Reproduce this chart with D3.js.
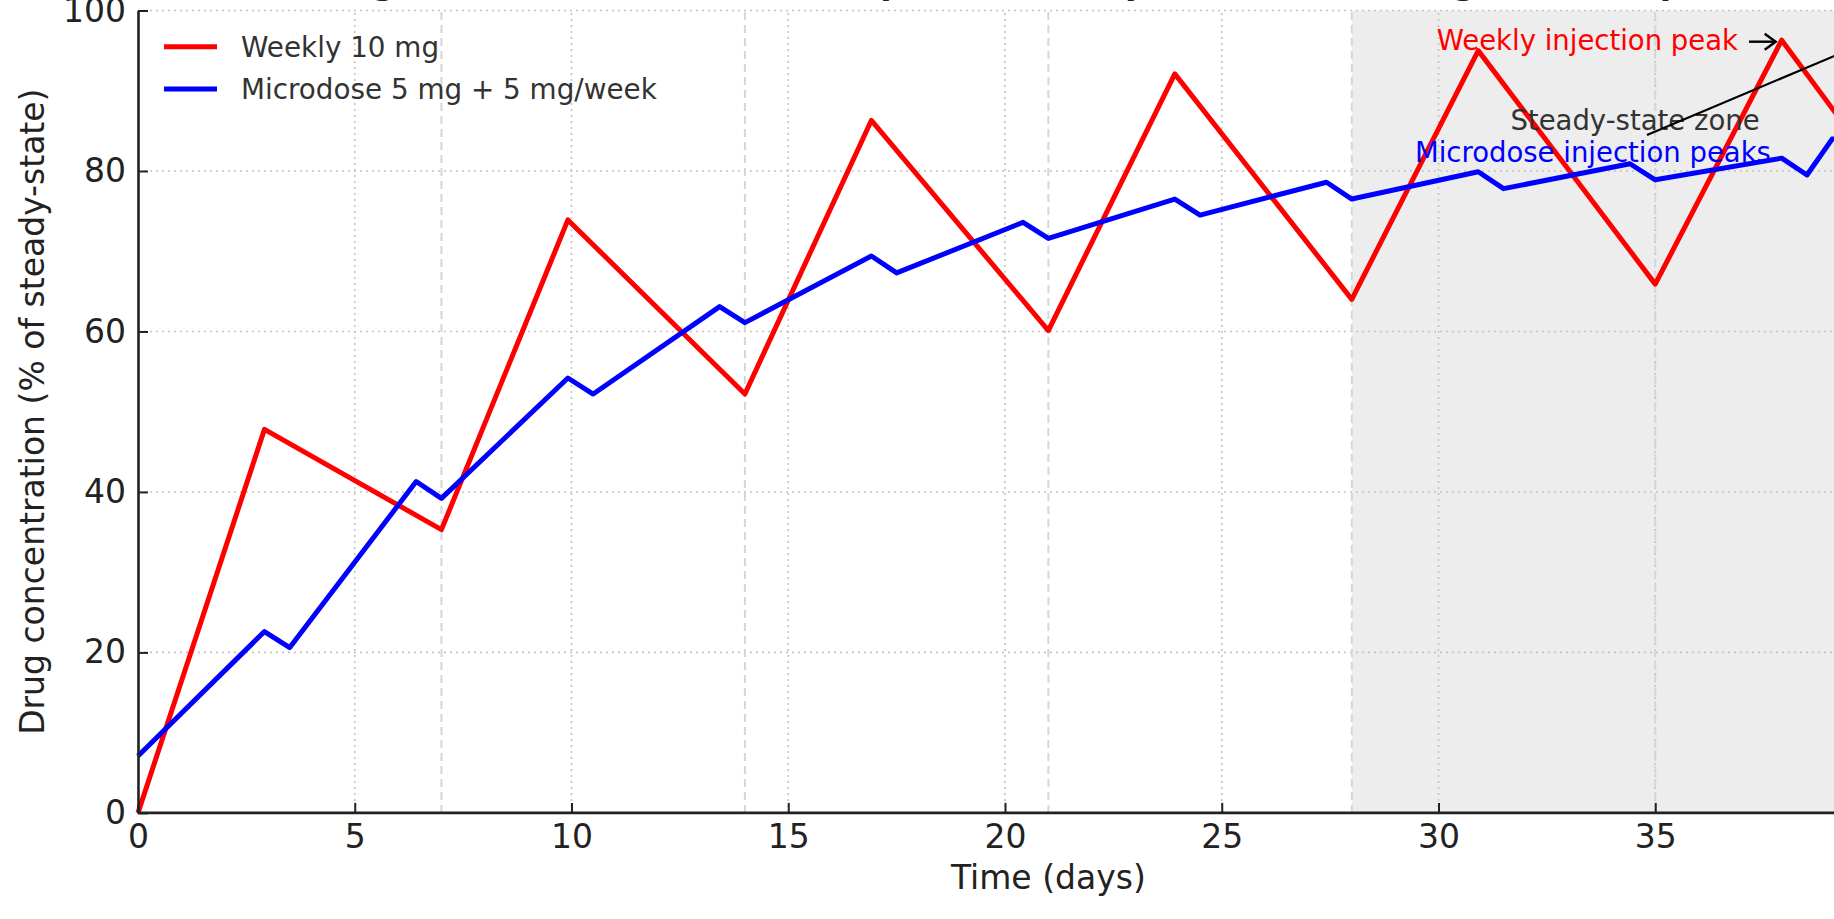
<!DOCTYPE html>
<html>
<head>
<meta charset="utf-8">
<script src="https://cdn.jsdelivr.net/npm/d3@7"></script>
<style>
	html, body { margin: 0; padding: 0; background: #ffffff; overflow: hidden; }
	svg { display: block; font-family: "DejaVu Sans", sans-serif; }
</style>
</head>
<body>
<svg id="chart" width="1834" height="919"></svg>
<script>
// values
var weeklyDays = [0, 2.917, 7, 9.917, 14, 16.917, 21, 23.917, 28, 30.917, 35, 37.917, 42];
var weeklyConc = [0, 47.8, 35.3, 73.9, 52.2, 86.3, 60.1, 92.1, 64.0, 95.0, 65.9, 96.3, 66.5];

var microDays = [0, 2.917, 3.5, 6.417, 7, 9.917, 10.5, 13.417, 14, 16.917, 17.5, 20.417, 21,
	23.917, 24.5, 27.417, 28, 30.917, 31.5, 34.417, 35, 37.917, 38.5, 39.083, 42];
var microConc = [7.1, 22.6, 20.6, 41.3, 39.2, 54.2, 52.2, 63.1, 61.1, 69.4, 67.3, 73.6, 71.6,
	76.5, 74.5, 78.6, 76.5, 79.9, 77.8, 80.9, 78.9, 81.6, 79.5, 84.0, 86.0];

var injectionDays = [7, 14, 21, 28, 35, 42];
var steadyZone = [28, 42];
var xTicks = [0, 5, 10, 15, 20, 25, 30, 35];
var xGrid = [0, 5, 10, 15, 20, 25, 30, 35, 40];
var yTicks = [0, 20, 40, 60, 80, 100];

var seriesNames = ["Weekly 10 mg", "Microdose 5 mg + 5 mg/week"];
var seriesColors = ["#ff0000", "#0000ff"];

var titleText = "Drug concentration over time: pulsed weekly vs microdose regimen (simplified)";
var xLabel = "Time (days)";
var yLabel = "Drug concentration (% of steady-state)";

var svg = d3.select("#chart");

var x = d3.scaleLinear().domain([0, 42]).range([138, 1958.7]);
var y = d3.scaleLinear().domain([0, 100]).range([812.9, 10.5]);

var series = [
	{name: seriesNames[0], color: seriesColors[0], points: d3.zip(weeklyDays, weeklyConc)},
	{name: seriesNames[1], color: seriesColors[1], points: d3.zip(microDays, microConc)}
];

// steady-state shading
svg.append("rect")
	.attr("x", x(steadyZone[0]))
	.attr("y", y(100))
	.attr("width", x(steadyZone[1]) - x(steadyZone[0]))
	.attr("height", y(0) - y(100))
	.attr("fill", "#ededed");

// dotted grid
var grid = svg.append("g").attr("class", "grid");
grid.selectAll("line.gx")
	.data(xGrid)
	.enter().append("line")
	.attr("class", "gx")
	.attr("x1", function(d) {return x(d);})
	.attr("x2", function(d) {return x(d);})
	.attr("y1", y(0))
	.attr("y2", y(100));
grid.selectAll("line.gy")
	.data(yTicks)
	.enter().append("line")
	.attr("class", "gy")
	.attr("x1", x(0))
	.attr("x2", x(42))
	.attr("y1", function(d) {return y(d);})
	.attr("y2", function(d) {return y(d);});
grid.selectAll("line")
	.attr("stroke", "#c4c4c4")
	.attr("stroke-width", 1.6)
	.attr("stroke-dasharray", "2,4");

// weekly injection markers
svg.append("g").selectAll("line")
	.data(injectionDays)
	.enter().append("line")
	.attr("x1", function(d) {return x(d);})
	.attr("x2", function(d) {return x(d);})
	.attr("y1", y(0))
	.attr("y2", y(100))
	.attr("stroke", "#d6d6d6")
	.attr("stroke-width", 2)
	.attr("stroke-dasharray", "8,5");

var line = d3.line()
	.x(function(d) {return x(d[0]);})
	.y(function(d) {return y(d[1]);});

svg.append("g").selectAll("path")
	.data(series)
	.enter().append("path")
	.attr("d", function(d) {return line(d.points);})
	.attr("fill", "none")
	.attr("stroke", function(d) {return d.color;})
	.attr("stroke-width", 5)
	.attr("stroke-linejoin", "round");

// axes, ticks pointing inward
var xAxis = svg.append("g")
	.attr("transform", "translate(0," + y(0) + ")")
	.call(d3.axisBottom(x).tickValues(xTicks).tickSizeInner(-10).tickSizeOuter(0).tickPadding(12));
var yAxis = svg.append("g")
	.attr("transform", "translate(" + x(0) + ",0)")
	.call(d3.axisLeft(y).tickValues(yTicks).tickSizeInner(-10).tickSizeOuter(0).tickPadding(12));
xAxis.select(".domain").attr("d", "M" + x(0) + ",0H1834");

[xAxis, yAxis].forEach(function(ax) {
	ax.select(".domain").attr("stroke", "#222222").attr("stroke-width", 2.6);
	ax.selectAll(".tick line").attr("stroke", "#222222").attr("stroke-width", 2);
	ax.selectAll(".tick text")
		.attr("fill", "#222222")
		.attr("font-family", "DejaVu Sans")
		.attr("font-size", "33px");
});

svg.append("text")
	.attr("x", x(21))
	.attr("y", 889)
	.attr("text-anchor", "middle")
	.attr("font-size", "33px")
	.attr("fill", "#222222")
	.text(xLabel);

svg.append("text")
	.attr("transform", "translate(44," + y(50) + ")rotate(-90)")
	.attr("text-anchor", "middle")
	.attr("font-size", "33px")
	.attr("fill", "#222222")
	.text(yLabel);

// title, mostly above the visible frame
svg.append("text")
	.attr("x", x(21))
	.attr("y", -6)
	.attr("text-anchor", "middle")
	.attr("font-size", "33px")
	.attr("font-weight", "bold")
	.attr("fill", "#222222")
	.text(titleText);

// annotations
var peakX = x(weeklyDays[11]), peakY = y(weeklyConc[11]);
svg.append("text")
	.attr("x", 1738)
	.attr("y", 50)
	.attr("text-anchor", "end")
	.attr("font-size", "27.5px")
	.attr("fill", "#ff0000")
	.text("Weekly injection peak");
svg.append("path")
	.attr("d", "M1749," + (peakY + 1.5) + "H" + (peakX - 6))
	.attr("stroke", "#000000")
	.attr("stroke-width", 2.4)
	.attr("fill", "none");
svg.append("path")
	.attr("d", "M" + (peakX - 17) + "," + (peakY - 6.5) + "L" + (peakX - 6) + "," + (peakY + 1.5) + "L" + (peakX - 17) + "," + (peakY + 9.5))
	.attr("stroke", "#000000")
	.attr("stroke-width", 2.4)
	.attr("fill", "none");

svg.append("text")
	.attr("x", 1635)
	.attr("y", 129.5)
	.attr("text-anchor", "middle")
	.attr("font-size", "27.5px")
	.attr("fill", "#333333")
	.text("Steady-state zone");

svg.append("text")
	.attr("x", 1415)
	.attr("y", 161.5)
	.attr("font-size", "27.5px")
	.attr("fill", "#0000ff")
	.text("Microdose injection peaks");
svg.append("line")
	.attr("x1", 1647)
	.attr("y1", 135)
	.attr("x2", x(42.5))
	.attr("y2", y(102))
	.attr("stroke", "#000000")
	.attr("stroke-width", 2.2);

// legend
var legend = svg.append("g").attr("class", "legend");
var legendRow = legend.selectAll("g")
	.data(series)
	.enter().append("g")
	.attr("transform", function(d, i) {return "translate(0," + (46.7 + i * 42.3) + ")";});
legendRow.append("line")
	.attr("x1", 164)
	.attr("x2", 217)
	.attr("stroke", function(d) {return d.color;})
	.attr("stroke-width", 5);
legendRow.append("text")
	.attr("x", 241)
	.attr("y", 10)
	.attr("font-size", "27.8px")
	.attr("fill", "#333333")
	.text(function(d) {return d.name;});
</script>
</body>
</html>
